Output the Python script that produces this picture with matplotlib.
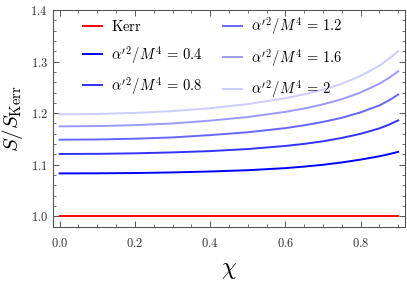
import matplotlib
matplotlib.use('Agg')
import matplotlib.pyplot as plt
from matplotlib.ticker import MultipleLocator, FuncFormatter

plt.rcParams['mathtext.fontset'] = 'cm'
plt.rcParams['font.family'] = 'serif'
plt.rcParams['font.serif'] = ['DejaVu Serif']

# spin parameter chi and entropy ratios
chi = [0.0, 0.1, 0.2, 0.3, 0.4, 0.5, 0.6, 0.65, 0.7, 0.75, 0.8, 0.85, 0.875, 0.9]
kerr = [1.0] * len(chi)
s_04 = [1.0833, 1.0835, 1.0840, 1.0852, 1.0870, 1.0895, 1.0935, 1.0965, 1.1000, 1.1045, 1.1100, 1.1165, 1.1205, 1.125]
s_08 = [1.1209, 1.1212, 1.1222, 1.1240, 1.1265, 1.1305, 1.1365, 1.1405, 1.1455, 1.1520, 1.1600, 1.1705, 1.1775, 1.186]
s_12 = [1.1486, 1.1490, 1.1505, 1.1530, 1.1575, 1.1630, 1.1710, 1.1765, 1.1830, 1.1910, 1.2015, 1.2150, 1.2245, 1.236]
s_16 = [1.1744, 1.1750, 1.1768, 1.1800, 1.1855, 1.1925, 1.2025, 1.2090, 1.2170, 1.2270, 1.2400, 1.2570, 1.2680, 1.281]
s_20 = [1.1977, 1.1985, 1.2005, 1.2040, 1.2095, 1.2175, 1.2290, 1.2365, 1.2455, 1.2570, 1.2720, 1.2920, 1.3050, 1.320]

labels = [r'$\mathrm{Kerr}$', r"$\alpha'^2/M^4\,=\,0.4$", r"$\alpha'^2/M^4\,=\,0.8$",
          r"$\alpha'^2/M^4\,=\,1.2$", r"$\alpha'^2/M^4\,=\,1.6$", r"$\alpha'^2/M^4\,=\,2$"]
colors = ['#ff0000', '#0000ff', '#3333ff', '#6666ff', '#9999ff', '#ccccff']

fig = plt.figure(figsize=(4.07, 2.83), dpi=100)
ax = fig.add_axes([0.130, 0.197, 0.865, 0.768])

for ys, lab, c in zip([kerr, s_04, s_08, s_12, s_16, s_20], labels, colors):
    ax.plot(chi, ys, color=c, lw=1.4, label=lab)

ax.set_xlim(-0.018, 0.918)
ax.set_ylim(0.979, 1.4)

ax.xaxis.set_major_locator(MultipleLocator(0.2))
ax.xaxis.set_minor_locator(MultipleLocator(0.05))
ax.yaxis.set_major_locator(MultipleLocator(0.1))
ax.yaxis.set_minor_locator(MultipleLocator(0.02))
fmt = FuncFormatter(lambda v, p: r'$%.1f$' % v)
ax.xaxis.set_major_formatter(fmt)
ax.yaxis.set_major_formatter(fmt)

frame_c = '#555555'
for sp in ax.spines.values():
    sp.set_color(frame_c)
    sp.set_linewidth(0.8)
ax.tick_params(which='both', direction='in', top=True, right=True, color=frame_c,
               labelcolor='#333333', labelsize=9)
ax.tick_params(which='major', length=4, width=0.7)
ax.tick_params(which='minor', length=2, width=0.6)
ax.tick_params(axis='x', pad=7)

ax.set_xlabel(r'$\chi$', fontsize=17, labelpad=6)
ax.set_ylabel(r'$S/S_{\mathrm{Kerr}}$', fontsize=15, labelpad=4)

ax.legend(ncol=2, loc='upper left', bbox_to_anchor=(0.205, 0.945),
          bbox_transform=fig.transFigure, frameon=False, borderpad=0, borderaxespad=0,
          fontsize=10.5, handlelength=1.3, handletextpad=0.6, labelspacing=0.65,
          columnspacing=1.4)

fig.savefig('out.png', dpi=100)
